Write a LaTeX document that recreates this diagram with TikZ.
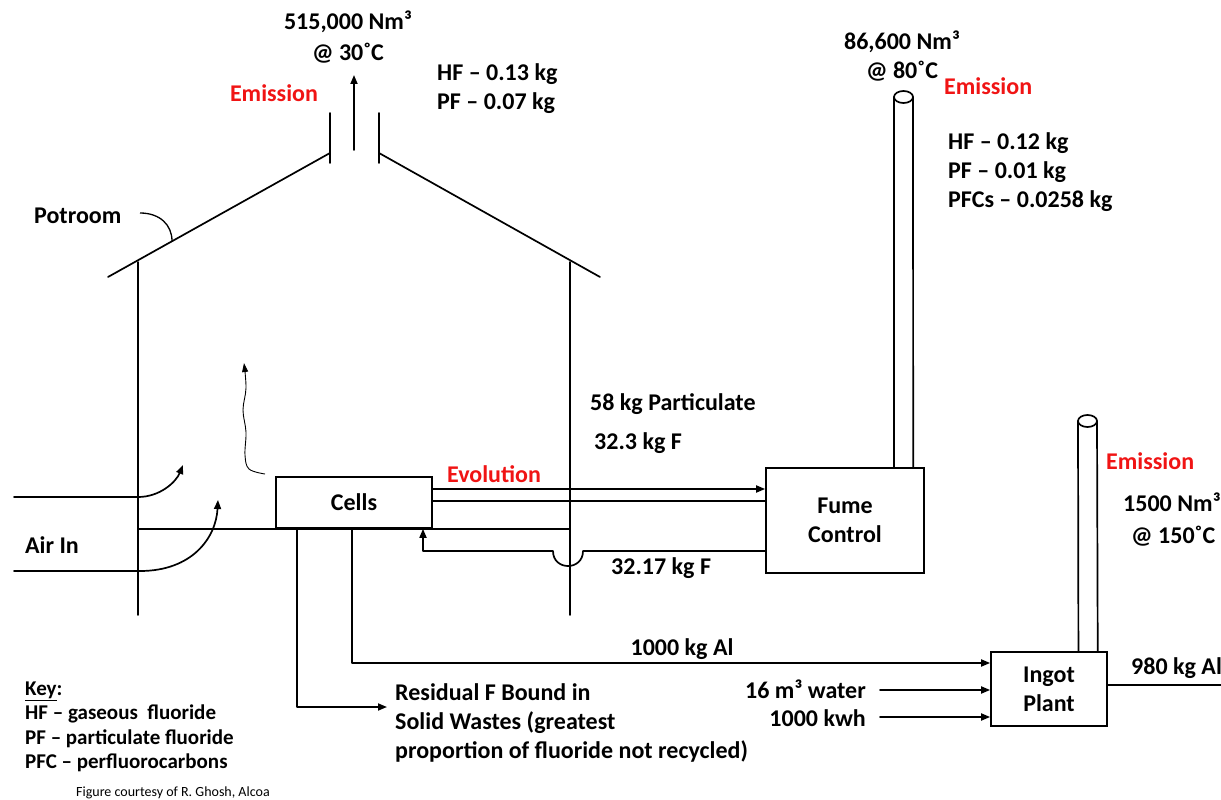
\documentclass[tikz,border=0pt]{standalone}
\usepackage{fontspec}
\setmainfont{Carlito}
\usetikzlibrary{arrows.meta,calc}
\definecolor{emred}{RGB}{240,20,20}
\tikzset{
  ln/.style={line width=1.7pt,line cap=round,line join=round},
  arr/.style={ln,-{Triangle[length=9pt,width=7pt]}},
  thinarr/.style={line width=0.9pt,-{Triangle[length=9pt,width=6pt]}},
  boxnode/.style={draw,line width=1.7pt,inner sep=0pt,align=center,font=\fontsize{24}{29}\selectfont\bfseries},
  lbl/.style={inner sep=0pt,font=\fontsize{24}{29}\selectfont\bfseries},
  redlbl/.style={lbl,text=emred},
  keylbl/.style={inner sep=0pt,anchor=base west,font=\fontsize{21}{25}\selectfont\bfseries},
}
\begin{document}
\begin{tikzpicture}[x=1pt,y=-1pt]
\useasboundingbox (0,0) rectangle (1221,800);
% ---------- potroom building ----------
\draw[ln] (108,277) -- (330,153);
\draw[ln] (379,153) -- (600,277);
\draw[ln] (330,113) -- (330,163);
\draw[ln] (379,113) -- (379,163);
\draw[ln] (138,262) -- (138,615);
\draw[ln] (570,262) -- (570,615);
\coordinate (ventbase) at (354,150);
\coordinate (venttop) at (354,75);
\draw[arr] (ventbase) -- (venttop);
% floor line
\draw[ln] (138,529) -- (570,529);
% ---------- boxes ----------
\node[boxnode,minimum width=156pt,minimum height=51pt] (cells) at (354,502.5) {Cells};
\node[boxnode,minimum width=158pt,minimum height=105pt] (fume) at (845,520.5) {Fume\\Control};
\node[boxnode,minimum width=116pt,minimum height=74pt] (ingot) at (1049,689) {Ingot\\Plant};
% ---------- stacks ----------
\coordinate (s1top) at (903.5,97);
\draw[ln] (s1top) ++(-9.5,0) -- ($(fume.north west)!0.807!(fume.north east)$);
\draw[ln] (s1top) ++(9.5,0) -- ($(fume.north west)!0.927!(fume.north east)$);
\draw[ln,fill=white] (s1top) ellipse [x radius=9.5pt,y radius=6pt];
\coordinate (s2top) at (1087.5,421);
\draw[ln] (s2top) ++(-9.5,0) -- ($(ingot.north west)!0.75!(ingot.north east)$);
\draw[ln] (s2top) ++(9.5,0) -- ($(ingot.north west)!0.914!(ingot.north east)$);
\draw[ln,fill=white] (s2top) ellipse [x radius=9.5pt,y radius=6pt];
% ---------- evolution lines ----------
\draw[arr] (cells.east |- 0,489) -- (fume.west |- 0,489);
\draw[ln] (cells.east |- 0,501) -- (fume.west |- 0,501);
% return
\coordinate (retturn) at (423,551);
\draw[arr] (fume.west |- 0,551) -- (583,551) .. controls (583,571) and (553,571) .. (553,551) -- (retturn) -- (cells.south -| retturn);
% ---------- outputs from cells ----------
\coordinate (alturn) at (352,663);
\draw[arr] (cells.south -| alturn) -- (alturn) -- (ingot.west |- alturn);
\coordinate (wturn) at (297,707);
\coordinate (wend) at (387,707);
\draw[arr] (cells.south -| wturn) -- (wturn) -- (wend);
% ingot inputs
\coordinate (water) at (880,690);
\coordinate (kwh) at (880,717);
\draw[arr] (water) -- (ingot.west |- water);
\draw[arr] (kwh) -- (ingot.west |- kwh);
% ingot output
\coordinate (alout) at (1221,685);
\draw[ln] (ingot.east |- alout) -- (alout);
% ---------- air in ----------
\coordinate (air1) at (14,497);
\coordinate (air2) at (14,571);
\coordinate (air1tip) at (183,465);
\coordinate (air2tip) at (218,500);
\draw[arr] (air1) -- (138,497) .. controls (160,497) and (176,482) .. (air1tip);
\draw[arr] (air2) -- (140,571) .. controls (192,571) and (216,538) .. (air2tip);
% wavy rising fume
\coordinate (wavestart) at (265,474);
\coordinate (wavetip) at (244,363);
\draw[thinarr] plot[smooth,tension=0.6] coordinates {(wavestart) (249,469) (245,455) (246,432) (243,410) (246,388) (wavetip)};
% potroom leader
\node[lbl,anchor=base west] (potroom) at (34,223) {Potroom};
\coordinate (leadstart) at (140,213);
\coordinate (roofpt) at (172,241);
\draw[line width=1.3pt] (leadstart) .. controls (160,213) and (172,225) .. (roofpt);
% ---------- labels ----------
\node[lbl,anchor=base] (vol1) at (348,30) {515,000 Nm³};
\node[lbl,anchor=base] (temp1) at (348,60) {@ 30˚C};
\node[redlbl,anchor=base] (em1) at (274,101) {Emission};
\node[lbl,anchor=base west] (hf1) at (437,81) {HF – 0.13 kg};
\node[lbl,anchor=base west] (pf1) at (437,110) {PF – 0.07 kg};
\node[lbl,anchor=base west] (airin) at (25,553) {Air In};
\node[redlbl,anchor=base west] (evo) at (447,482) {Evolution};
\node[lbl,anchor=base west] (part) at (590,410) {58 kg Particulate};
\node[lbl,anchor=base west] (f323) at (594,449) {32.3 kg F};
\node[lbl,anchor=base west] (f3217) at (611,574) {32.17 kg F};
\node[lbl,anchor=base] (vol2) at (902,50) {86,600 Nm³};
\node[lbl,anchor=base] (temp2) at (902,78) {@ 80˚C};
\node[redlbl,anchor=base west] (em2) at (944,95) {Emission};
\node[lbl,anchor=base west] (hf2) at (948,149) {HF – 0.12 kg};
\node[lbl,anchor=base west] (pf2) at (948,178) {PF – 0.01 kg};
\node[lbl,anchor=base west] (pfc2) at (948,207) {PFCs – 0.0258 kg};
\node[redlbl,anchor=base west] (em3) at (1106,469) {Emission};
\node[lbl,anchor=base west] (vol3) at (1123,511) {1500 Nm³};
\node[lbl,anchor=base west] (temp3) at (1131,543) {@ 150˚C};
\node[lbl,anchor=base west] (al980) at (1131,674) {980 kg Al};
\node[lbl,anchor=base] (al1000) at (682,655) {1000 kg Al};
\node[lbl,anchor=base west] (res1) at (395,700) {Residual F Bound in};
\node[lbl,anchor=base west] (res2) at (395,729) {Solid Wastes (greatest};
\node[lbl,anchor=base west] (res3) at (395,758) {proportion of fluoride not recycled)};
\node[lbl,anchor=base east] (waterlbl) at (866,698) {16 m³ water};
\node[lbl,anchor=base east] (kwhlbl) at (866,726) {1000 kwh};
% key
\node[keylbl] (key) at (25,695) {\underline{Key}:};
\node[keylbl] (k1) at (25,719) {HF – gaseous \ fluoride};
\node[keylbl] (k2) at (25,744) {PF – particulate fluoride};
\node[keylbl] (k3) at (25,768) {PFC – perfluorocarbons};
\node[inner sep=0pt,anchor=base west,font=\fontsize{14}{16}\selectfont] (credit) at (76,796) {Figure courtesy of R. Ghosh, Alcoa};
\end{tikzpicture}
\end{document}
